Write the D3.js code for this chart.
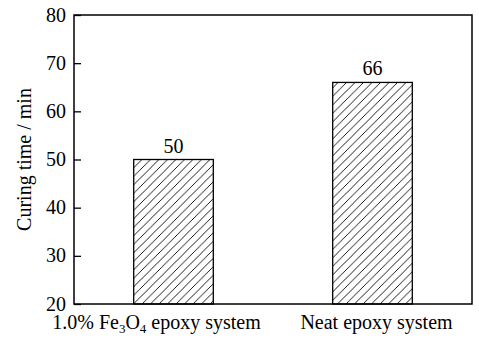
<!DOCTYPE html>
<html>
<head>
<meta charset="utf-8">
<script src="https://cdn.jsdelivr.net/npm/d3@7"></script>
<style>
  html, body { margin: 0; padding: 0; background: #fff; }
  svg { display: block; }
  text { font-family: "Liberation Serif", "DejaVu Serif", serif; fill: #000; }
</style>
</head>
<body>
<div id="chart"></div>
<script>
// categories and values
var categories = ["fe3o4", "neat"];
var curingTimes = [50, 66];
var yTicks = [20, 30, 40, 50, 60, 70, 80];
var yTitle = "Curing time / min";

var width = 479, height = 344;
var margin = { top: 15, right: 7, bottom: 40, left: 74 };
var w = width - margin.left - margin.right;
var h = height - margin.top - margin.bottom;
var fs = 20;

var svg = d3.select("#chart").append("svg")
    .attr("width", width)
    .attr("height", height);

// diagonal hatch "/"
var defs = svg.append("defs");
var pat = defs.append("pattern")
    .attr("id", "hatch")
    .attr("patternUnits", "userSpaceOnUse")
    .attr("width", 8.5)
    .attr("height", 8.5);
pat.append("rect").attr("width", 8.5).attr("height", 8.5).attr("fill", "#fff");
pat.append("path")
    .attr("d", "M-2.125,2.125 L2.125,-2.125 M0,8.5 L8.5,0 M6.375,10.625 L10.625,6.375")
    .attr("stroke", "#000")
    .attr("stroke-width", 0.9);

var g = svg.append("g")
    .attr("transform", "translate(" + margin.left + "," + margin.top + ")");

var x = d3.scaleBand()
    .domain(categories)
    .range([0, w])
    .padding(0);
var barW = x.bandwidth() * 0.4;

var y = d3.scaleLinear()
    .domain([20, 80])
    .range([h, 0]);

// bars
g.selectAll(".bar")
    .data(curingTimes)
    .enter().append("rect")
    .attr("class", "bar")
    .attr("x", function(d, i) { return x(categories[i]) + (x.bandwidth() - barW) / 2; })
    .attr("y", function(d) { return y(d); })
    .attr("width", barW)
    .attr("height", function(d) { return h - y(d); })
    .attr("fill", "url(#hatch)")
    .attr("stroke", "#000")
    .attr("stroke-width", 1.3);

// value labels
g.selectAll(".val")
    .data(curingTimes)
    .enter().append("text")
    .attr("class", "val")
    .attr("x", function(d, i) { return x(categories[i]) + x.bandwidth() / 2; })
    .attr("y", function(d) { return y(d) - 7; })
    .attr("text-anchor", "middle")
    .style("font-size", fs + "px")
    .text(function(d) { return d; });

// frame
g.append("rect")
    .attr("width", w)
    .attr("height", h)
    .attr("fill", "none")
    .attr("stroke", "#000")
    .attr("stroke-width", 1.5);

// y axis, ticks pointing inward
var yAxis = g.append("g")
    .call(d3.axisRight(y).tickValues(yTicks).tickSize(7).tickFormat(""));
yAxis.select(".domain").remove();
yAxis.selectAll("line").attr("stroke", "#000").attr("stroke-width", 1.3);

g.selectAll(".ytl")
    .data(yTicks)
    .enter().append("text")
    .attr("class", "ytl")
    .attr("x", -8)
    .attr("y", function(d) { return y(d); })
    .attr("dy", "0.33em")
    .attr("text-anchor", "end")
    .style("font-size", fs + "px")
    .text(function(d) { return d; });

// y title
g.append("text")
    .attr("transform", "translate(" + (31 - margin.left) + "," + (h / 2) + ")rotate(-90)")
    .attr("text-anchor", "middle")
    .style("font-size", fs + "px")
    .text(yTitle);

// category labels
var cat1 = g.append("text")
    .attr("x", x("fe3o4") + x.bandwidth() / 2 - 17)
    .attr("y", h + 25)
    .attr("text-anchor", "middle")
    .style("font-size", fs + "px");
cat1.append("tspan").text("1.0% Fe");
cat1.append("tspan").attr("dy", 4).style("font-size", "13px").text("3");
cat1.append("tspan").attr("dy", -4).text("O");
cat1.append("tspan").attr("dy", 4).style("font-size", "13px").text("4");
cat1.append("tspan").attr("dy", -4).text(" epoxy system");

g.append("text")
    .attr("x", x("neat") + x.bandwidth() / 2 + 4)
    .attr("y", h + 25)
    .attr("text-anchor", "middle")
    .style("font-size", fs + "px")
    .text("Neat epoxy system");
</script>
</body>
</html>
